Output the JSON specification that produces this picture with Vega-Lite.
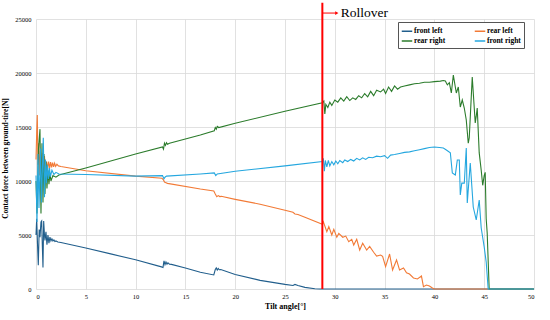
{
  "$schema": "https://vega.github.io/schema/vega-lite/v6.json",
  "width": 498,
  "height": 270,
  "autosize": {"type": "none"},
  "padding": {"left": 36, "top": 19, "right": 16, "bottom": 31},
  "background": "white",
  "config": {"font": "Liberation Serif", "view": {"stroke": null}},
  "datasets": {
    "one": [{"event": "Rollover"}],
    "lines": [
      {"s":"front left","x":0,"y":5000},{"s":"front left","x":0.07,"y":6500},{"s":"front left","x":0.15,"y":4200},{"s":"front left","x":0.23,"y":2200},{"s":"front left","x":0.32,"y":5500},{"s":"front left","x":0.4,"y":4800},{"s":"front left","x":0.5,"y":6200},{"s":"front left","x":0.57,"y":6300},{"s":"front left","x":0.63,"y":4200},{"s":"front left","x":0.7,"y":2000},{"s":"front left","x":0.77,"y":6300},{"s":"front left","x":0.85,"y":5000},{"s":"front left","x":0.9,"y":4500},{"s":"front left","x":1.0,"y":5300},{"s":"front left","x":1.1,"y":4100},{"s":"front left","x":1.2,"y":5000},{"s":"front left","x":1.3,"y":4250},{"s":"front left","x":1.4,"y":4800},{"s":"front left","x":1.5,"y":4450},{"s":"front left","x":1.6,"y":4650},{"s":"front left","x":1.7,"y":4450},{"s":"front left","x":1.8,"y":4550},{"s":"front left","x":1.9,"y":4400},{"s":"front left","x":2.0,"y":4450},{"s":"front left","x":2.2,"y":4350},{"s":"front left","x":2.5,"y":4300},{"s":"front left","x":5,"y":3800},{"s":"front left","x":7.5,"y":3250},{"s":"front left","x":10,"y":2700},{"s":"front left","x":12.6,"y":2050},{"s":"front left","x":12.75,"y":2000},{"s":"front left","x":12.85,"y":2600},{"s":"front left","x":12.95,"y":2250},{"s":"front left","x":13.05,"y":2500},{"s":"front left","x":13.15,"y":2300},{"s":"front left","x":13.25,"y":2420},{"s":"front left","x":13.4,"y":2300},{"s":"front left","x":13.6,"y":2280},{"s":"front left","x":15,"y":1950},{"s":"front left","x":16.5,"y":1550},{"s":"front left","x":17.85,"y":1300},{"s":"front left","x":18.0,"y":1800},{"s":"front left","x":18.1,"y":1950},{"s":"front left","x":18.2,"y":1750},{"s":"front left","x":18.3,"y":1900},{"s":"front left","x":18.4,"y":1780},{"s":"front left","x":18.55,"y":1800},{"s":"front left","x":20,"y":1350},{"s":"front left","x":22.5,"y":800},{"s":"front left","x":25,"y":430},{"s":"front left","x":25.8,"y":330},{"s":"front left","x":26.0,"y":420},{"s":"front left","x":26.3,"y":330},{"s":"front left","x":27,"y":150},{"s":"front left","x":28,"y":30},{"s":"front left","x":28.5,"y":0},{"s":"front left","x":50,"y":0},
      {"s":"rear left","x":0,"y":12000},{"s":"rear left","x":0.07,"y":14500},{"s":"rear left","x":0.13,"y":16100},{"s":"rear left","x":0.2,"y":11500},{"s":"rear left","x":0.28,"y":13500},{"s":"rear left","x":0.35,"y":10500},{"s":"rear left","x":0.45,"y":12800},{"s":"rear left","x":0.55,"y":10800},{"s":"rear left","x":0.65,"y":12600},{"s":"rear left","x":0.75,"y":11000},{"s":"rear left","x":0.85,"y":12300},{"s":"rear left","x":0.95,"y":11100},{"s":"rear left","x":1.07,"y":11800},{"s":"rear left","x":1.17,"y":11150},{"s":"rear left","x":1.27,"y":11800},{"s":"rear left","x":1.37,"y":11200},{"s":"rear left","x":1.47,"y":11750},{"s":"rear left","x":1.57,"y":11250},{"s":"rear left","x":1.67,"y":11700},{"s":"rear left","x":1.77,"y":11300},{"s":"rear left","x":1.87,"y":11650},{"s":"rear left","x":1.97,"y":11350},{"s":"rear left","x":2.1,"y":11550},{"s":"rear left","x":2.25,"y":11400},{"s":"rear left","x":2.5,"y":11350},{"s":"rear left","x":5,"y":10950},{"s":"rear left","x":10,"y":10450},{"s":"rear left","x":12.65,"y":10250},{"s":"rear left","x":12.8,"y":10100},{"s":"rear left","x":12.9,"y":9900},{"s":"rear left","x":13.0,"y":9850},{"s":"rear left","x":13.2,"y":9780},{"s":"rear left","x":16.5,"y":9260},{"s":"rear left","x":17.85,"y":9080},{"s":"rear left","x":18.0,"y":8800},{"s":"rear left","x":18.15,"y":8550},{"s":"rear left","x":18.3,"y":8650},{"s":"rear left","x":18.45,"y":8560},{"s":"rear left","x":18.6,"y":8580},{"s":"rear left","x":20,"y":8300},{"s":"rear left","x":22.5,"y":7850},{"s":"rear left","x":25,"y":7300},{"s":"rear left","x":25.8,"y":7100},{"s":"rear left","x":26.0,"y":6950},{"s":"rear left","x":26.3,"y":6900},{"s":"rear left","x":27,"y":6650},{"s":"rear left","x":28.75,"y":6000},{"s":"rear left","x":28.85,"y":6230},{"s":"rear left","x":29.2,"y":5300},{"s":"rear left","x":29.4,"y":5770},{"s":"rear left","x":29.7,"y":5000},{"s":"rear left","x":29.9,"y":5520},{"s":"rear left","x":30.2,"y":4790},{"s":"rear left","x":30.4,"y":5150},{"s":"rear left","x":30.8,"y":4790},{"s":"rear left","x":31.1,"y":4900},{"s":"rear left","x":31.4,"y":4380},{"s":"rear left","x":31.7,"y":4600},{"s":"rear left","x":31.9,"y":4070},{"s":"rear left","x":32.2,"y":4600},{"s":"rear left","x":32.5,"y":3610},{"s":"rear left","x":32.8,"y":4230},{"s":"rear left","x":33.2,"y":3610},{"s":"rear left","x":33.5,"y":3950},{"s":"rear left","x":33.9,"y":3400},{"s":"rear left","x":34.2,"y":3050},{"s":"rear left","x":34.6,"y":3150},{"s":"rear left","x":34.8,"y":3020},{"s":"rear left","x":35.1,"y":2070},{"s":"rear left","x":35.5,"y":3240},{"s":"rear left","x":35.8,"y":1760},{"s":"rear left","x":36.2,"y":2690},{"s":"rear left","x":36.5,"y":1760},{"s":"rear left","x":36.9,"y":1940},{"s":"rear left","x":37.2,"y":1510},{"s":"rear left","x":37.5,"y":1390},{"s":"rear left","x":37.9,"y":1020},{"s":"rear left","x":38.3,"y":930},{"s":"rear left","x":38.7,"y":1200},{"s":"rear left","x":38.9,"y":215},{"s":"rear left","x":39.2,"y":370},{"s":"rear left","x":39.5,"y":280},{"s":"rear left","x":39.8,"y":90},{"s":"rear left","x":40.0,"y":0},{"s":"rear left","x":50,"y":0},
      {"s":"rear right","x":0,"y":10000},{"s":"rear right","x":0.1,"y":7000},{"s":"rear right","x":0.25,"y":13000},{"s":"rear right","x":0.4,"y":14800},{"s":"rear right","x":0.5,"y":7000},{"s":"rear right","x":0.6,"y":13500},{"s":"rear right","x":0.7,"y":8000},{"s":"rear right","x":0.8,"y":12500},{"s":"rear right","x":0.9,"y":8800},{"s":"rear right","x":1.0,"y":11800},{"s":"rear right","x":1.1,"y":9300},{"s":"rear right","x":1.2,"y":11000},{"s":"rear right","x":1.3,"y":9700},{"s":"rear right","x":1.4,"y":10700},{"s":"rear right","x":1.5,"y":10000},{"s":"rear right","x":1.7,"y":10500},{"s":"rear right","x":2.0,"y":10350},{"s":"rear right","x":2.3,"y":10550},{"s":"rear right","x":5,"y":11200},{"s":"rear right","x":10,"y":12500},{"s":"rear right","x":12.7,"y":13150},{"s":"rear right","x":12.8,"y":12950},{"s":"rear right","x":12.9,"y":13500},{"s":"rear right","x":13.0,"y":13300},{"s":"rear right","x":13.1,"y":13550},{"s":"rear right","x":13.2,"y":13400},{"s":"rear right","x":13.4,"y":13500},{"s":"rear right","x":16.5,"y":14260},{"s":"rear right","x":17.9,"y":14650},{"s":"rear right","x":18.0,"y":14950},{"s":"rear right","x":18.1,"y":14800},{"s":"rear right","x":18.2,"y":15050},{"s":"rear right","x":18.35,"y":14950},{"s":"rear right","x":20,"y":15350},{"s":"rear right","x":25,"y":16450},{"s":"rear right","x":28.75,"y":17250},{"s":"rear right","x":28.9,"y":17400},{"s":"rear right","x":29.0,"y":16200},{"s":"rear right","x":29.1,"y":17100},{"s":"rear right","x":29.3,"y":16800},{"s":"rear right","x":29.5,"y":17300},{"s":"rear right","x":29.7,"y":17000},{"s":"rear right","x":30,"y":17500},{"s":"rear right","x":30.3,"y":17300},{"s":"rear right","x":30.6,"y":17700},{"s":"rear right","x":30.9,"y":17400},{"s":"rear right","x":31.2,"y":17800},{"s":"rear right","x":31.5,"y":17450},{"s":"rear right","x":31.8,"y":17700},{"s":"rear right","x":32.1,"y":17550},{"s":"rear right","x":32.4,"y":17900},{"s":"rear right","x":32.7,"y":17700},{"s":"rear right","x":33,"y":18100},{"s":"rear right","x":33.3,"y":17800},{"s":"rear right","x":33.6,"y":18300},{"s":"rear right","x":33.9,"y":17900},{"s":"rear right","x":34.2,"y":18400},{"s":"rear right","x":34.6,"y":18250},{"s":"rear right","x":34.9,"y":18500},{"s":"rear right","x":35.1,"y":18100},{"s":"rear right","x":35.4,"y":18700},{"s":"rear right","x":35.7,"y":18300},{"s":"rear right","x":36.0,"y":18800},{"s":"rear right","x":36.3,"y":18500},{"s":"rear right","x":36.6,"y":18700},{"s":"rear right","x":37.0,"y":18800},{"s":"rear right","x":37.5,"y":18900},{"s":"rear right","x":38,"y":19000},{"s":"rear right","x":38.5,"y":19050},{"s":"rear right","x":39,"y":19150},{"s":"rear right","x":39.5,"y":19150},{"s":"rear right","x":40,"y":19200},{"s":"rear right","x":40.6,"y":19250},{"s":"rear right","x":40.9,"y":19300},{"s":"rear right","x":41.1,"y":19260},{"s":"rear right","x":41.3,"y":18900},{"s":"rear right","x":41.5,"y":19100},{"s":"rear right","x":41.7,"y":18150},{"s":"rear right","x":41.9,"y":19800},{"s":"rear right","x":42.2,"y":18150},{"s":"rear right","x":42.4,"y":18700},{"s":"rear right","x":42.6,"y":16850},{"s":"rear right","x":42.8,"y":17500},{"s":"rear right","x":43.0,"y":16760},{"s":"rear right","x":43.2,"y":15650},{"s":"rear right","x":43.4,"y":13500},{"s":"rear right","x":43.5,"y":14000},{"s":"rear right","x":43.8,"y":19630},{"s":"rear right","x":44.1,"y":15370},{"s":"rear right","x":44.2,"y":16000},{"s":"rear right","x":44.3,"y":16760},{"s":"rear right","x":44.5,"y":12600},{"s":"rear right","x":44.7,"y":11000},{"s":"rear right","x":44.85,"y":9600},{"s":"rear right","x":45.0,"y":10500},{"s":"rear right","x":45.1,"y":10800},{"s":"rear right","x":45.2,"y":6500},{"s":"rear right","x":45.3,"y":5200},{"s":"rear right","x":45.5,"y":0},{"s":"rear right","x":50,"y":0},
      {"s":"front right","x":0,"y":10500},{"s":"front right","x":0.1,"y":6200},{"s":"front right","x":0.2,"y":12500},{"s":"front right","x":0.3,"y":7500},{"s":"front right","x":0.45,"y":13000},{"s":"front right","x":0.55,"y":8000},{"s":"front right","x":0.73,"y":14000},{"s":"front right","x":0.85,"y":8500},{"s":"front right","x":0.95,"y":12000},{"s":"front right","x":1.05,"y":9800},{"s":"front right","x":1.15,"y":11500},{"s":"front right","x":1.25,"y":10200},{"s":"front right","x":1.35,"y":11200},{"s":"front right","x":1.45,"y":10400},{"s":"front right","x":1.6,"y":11000},{"s":"front right","x":1.8,"y":10600},{"s":"front right","x":2.0,"y":10800},{"s":"front right","x":2.3,"y":10650},{"s":"front right","x":5,"y":10600},{"s":"front right","x":10,"y":10450},{"s":"front right","x":12.7,"y":10500},{"s":"front right","x":12.85,"y":10200},{"s":"front right","x":12.95,"y":10350},{"s":"front right","x":13.1,"y":10450},{"s":"front right","x":16.5,"y":10650},{"s":"front right","x":17.9,"y":10750},{"s":"front right","x":18.05,"y":10500},{"s":"front right","x":18.2,"y":10650},{"s":"front right","x":20,"y":10900},{"s":"front right","x":25,"y":11400},{"s":"front right","x":28.75,"y":11800},{"s":"front right","x":28.85,"y":12100},{"s":"front right","x":28.95,"y":10900},{"s":"front right","x":29.05,"y":11900},{"s":"front right","x":29.2,"y":11300},{"s":"front right","x":29.35,"y":11900},{"s":"front right","x":29.5,"y":11400},{"s":"front right","x":29.7,"y":11800},{"s":"front right","x":29.9,"y":11500},{"s":"front right","x":30.1,"y":11850},{"s":"front right","x":30.3,"y":11600},{"s":"front right","x":30.5,"y":11900},{"s":"front right","x":30.8,"y":11700},{"s":"front right","x":31.0,"y":11950},{"s":"front right","x":31.3,"y":11800},{"s":"front right","x":31.6,"y":12000},{"s":"front right","x":31.9,"y":11850},{"s":"front right","x":32.2,"y":12100},{"s":"front right","x":32.5,"y":11950},{"s":"front right","x":32.8,"y":12150},{"s":"front right","x":33.1,"y":12000},{"s":"front right","x":33.4,"y":12200},{"s":"front right","x":33.8,"y":12150},{"s":"front right","x":34.2,"y":12300},{"s":"front right","x":34.6,"y":12250},{"s":"front right","x":35.0,"y":12350},{"s":"front right","x":35.3,"y":12100},{"s":"front right","x":35.6,"y":12400},{"s":"front right","x":36,"y":12450},{"s":"front right","x":36.5,"y":12550},{"s":"front right","x":37,"y":12650},{"s":"front right","x":37.5,"y":12700},{"s":"front right","x":38,"y":12800},{"s":"front right","x":38.5,"y":12900},{"s":"front right","x":39,"y":13000},{"s":"front right","x":39.5,"y":13100},{"s":"front right","x":40,"y":13150},{"s":"front right","x":40.5,"y":13100},{"s":"front right","x":40.9,"y":13050},{"s":"front right","x":41.2,"y":12870},{"s":"front right","x":41.6,"y":12600},{"s":"front right","x":41.8,"y":10740},{"s":"front right","x":42.1,"y":10560},{"s":"front right","x":42.3,"y":11940},{"s":"front right","x":42.5,"y":11940},{"s":"front right","x":42.6,"y":8700},{"s":"front right","x":42.75,"y":9800},{"s":"front right","x":43.0,"y":9800},{"s":"front right","x":43.2,"y":13060},{"s":"front right","x":43.3,"y":7960},{"s":"front right","x":43.6,"y":11670},{"s":"front right","x":43.9,"y":7590},{"s":"front right","x":44.2,"y":6390},{"s":"front right","x":44.5,"y":8240},{"s":"front right","x":44.7,"y":5650},{"s":"front right","x":45.0,"y":3890},{"s":"front right","x":45.2,"y":2500},{"s":"front right","x":45.4,"y":0},{"s":"front right","x":50,"y":0}
    ]
  },
  "layer": [
    {
      "data": {"name": "lines"},
      "mark": {"type": "line", "strokeWidth": 1.1},
      "encoding": {
        "x": {
          "field": "x", "type": "quantitative",
          "scale": {"domain": [0, 50], "nice": false, "zero": false},
          "axis": {
            "values": [0, 5, 10, 15, 20, 25, 30, 35, 40, 45, 50],
            "title": "Tilt angle[°]", "titleFontSize": 8, "titleFontWeight": "bold", "titleColor": "#000",
            "titlePadding": 3, "labelFontSize": 6.5, "labelColor": "#000", "labelPadding": 4,
            "ticks": false, "domain": false, "grid": true, "gridColor": "#d9d9d9", "gridWidth": 0.8
          }
        },
        "y": {
          "field": "y", "type": "quantitative",
          "scale": {"domain": [0, 25000], "nice": false},
          "axis": {
            "values": [0, 5000, 10000, 15000, 20000, 25000], "format": "d",
            "title": "Contact force between ground-tire[N]", "titleFontSize": 7.5, "titleFontWeight": "bold", "titleColor": "#000",
            "titleX": -27, "titleY": 139,
            "labelFontSize": 6.5, "labelColor": "#000", "labelPadding": 5,
            "ticks": false, "domain": false, "grid": true, "gridColor": "#d9d9d9", "gridWidth": 0.8
          }
        },
        "color": {
          "field": "s", "type": "nominal",
          "scale": {
            "domain": ["front left", "rear left", "rear right", "front right"],
            "range": ["#215e8c", "#f27a36", "#2c7c2c", "#25a7df"]
          },
          "legend": {
            "orient": "none", "legendX": 362, "legendY": 3, "direction": "horizontal", "columns": 2,
            "title": null, "symbolType": "stroke", "symbolStrokeWidth": 1.5, "symbolSize": 110,
            "labelFontSize": 7.5, "labelFontWeight": "bold", "labelColor": "#000", "labelOffset": 1,
            "fillColor": "white", "strokeColor": "#555", "padding": 3, "rowPadding": 0, "columnPadding": 25
          }
        }
      }
    },
    {
      "data": {"name": "one"},
      "mark": {"type": "rule", "color": "#ff0000", "strokeWidth": 2},
      "encoding": {"x": {"datum": 28.75}, "y": {"datum": 0}, "y2": {"datum": 26500}}
    },
    {
      "data": {"name": "one"},
      "mark": {"type": "rule", "color": "#ff0000", "strokeWidth": 1},
      "encoding": {"x": {"datum": 28.75}, "x2": {"datum": 30.1}, "y": {"datum": 25550}}
    },
    {
      "data": {"name": "one"},
      "mark": {"type": "point", "shape": "triangle-right", "filled": true, "color": "#ff0000", "size": 14, "opacity": 1},
      "encoding": {"x": {"datum": 30.2}, "y": {"datum": 25550}}
    },
    {
      "data": {"name": "one"},
      "mark": {"type": "text", "align": "left", "baseline": "middle", "fontSize": 13.5, "color": "#000"},
      "encoding": {"x": {"datum": 30.6}, "y": {"datum": 25550}, "text": {"field": "event"}}
    }
  ]
}
